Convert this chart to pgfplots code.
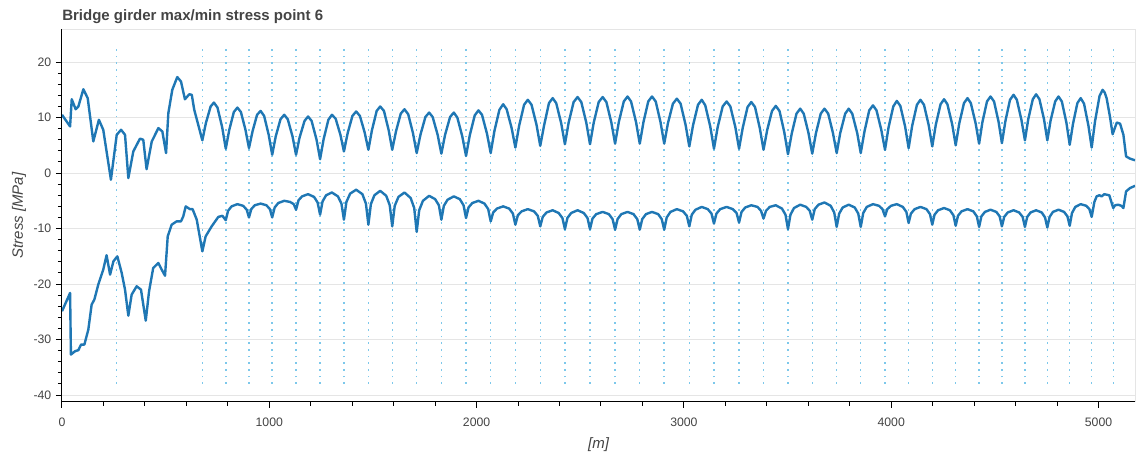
\documentclass[border=0pt]{standalone}
\usepackage{fontspec}
\setmainfont{Liberation Sans}
\usepackage{pgfplots}
\pgfplotsset{compat=1.18}
\definecolor{bkblue}{RGB}{31,119,180}
\definecolor{bkgrid}{RGB}{229,229,229}
\definecolor{bktext}{RGB}{68,68,68}
\definecolor{support}{RGB}{125,200,235}

\begin{document}
\begin{tikzpicture}
  \begin{axis}[
      scale only axis,
      width=804.75pt, height=279.3pt,
      xmin=0, xmax=5176,
      ymin=-41.2, ymax=25.9,
      xtick={0,1000,2000,3000,4000,5000},
      ytick={-40,-30,-20,-10,0,10,20},
      minor x tick num=4,
      minor y tick num=4,
      xtick pos=bottom, ytick pos=left,
      tick align=outside,
      major tick length=4.5pt,
      minor tick length=3pt,
      tick style={black, line width=0.75pt},
      axis line style={bkgrid, line width=0.75pt},
      ymajorgrids=true,
      grid style={bkgrid, line width=0.75pt},
      /pgf/number format/assume math mode=true,
      /pgf/number format/1000 sep={},
      ticklabel style={font=\fontsize{9.2}{10}\selectfont, text=bktext},
      xticklabel style={yshift=-4pt},
      title={Bridge girder max/min stress point 6},
      title style={at={(axis description cs:0,1)}, anchor=base west, inner xsep=0pt, yshift=0.5pt,
        font=\bfseries\fontsize{11.25}{13}\selectfont, text=bktext},
      xlabel={[m]},
      ylabel={Stress [MPa]},
      xlabel style={at={(axis description cs:0.5,-0.125)}, anchor=base,
        font=\itshape\fontsize{11.25}{13}\selectfont, text=bktext},
      ylabel style={at={(axis description cs:-0.04,0.5)}, anchor=center,
        font=\itshape\fontsize{11.25}{13}\selectfont, text=bktext},
      unbounded coords=jump,
      after end axis/.code={
        \draw[black, line width=0.75pt] (rel axis cs:0,1) -- (rel axis cs:0,0) -- (rel axis cs:1,0);
      },
    ]
    % support positions
    \addplot[support, line width=1.1pt, dash pattern=on 1.3pt off 3.7pt] coordinates {
      (262,-38) (262,22.3) (262,nan)
      (677,-38) (677,22.3) (677,nan)
      (790,-38) (790,22.3) (790,nan)
      (902,-38) (902,22.3) (902,nan)
      (1014,-38) (1014,22.3) (1014,nan)
      (1129,-38) (1129,22.3) (1129,nan)
      (1245,-38) (1245,22.3) (1245,nan)
      (1360,-38) (1360,22.3) (1360,nan)
      (1478,-38) (1478,22.3) (1478,nan)
      (1593,-38) (1593,22.3) (1593,nan)
      (1711,-38) (1711,22.3) (1711,nan)
      (1830,-38) (1830,22.3) (1830,nan)
      (1949,-38) (1949,22.3) (1949,nan)
      (2068,-38) (2068,22.3) (2068,nan)
      (2187,-38) (2187,22.3) (2187,nan)
      (2307,-38) (2307,22.3) (2307,nan)
      (2426,-38) (2426,22.3) (2426,nan)
      (2547,-38) (2547,22.3) (2547,nan)
      (2668,-38) (2668,22.3) (2668,nan)
      (2787,-38) (2787,22.3) (2787,nan)
      (2905,-38) (2905,22.3) (2905,nan)
      (3026,-38) (3026,22.3) (3026,nan)
      (3145,-38) (3145,22.3) (3145,nan)
      (3266,-38) (3266,22.3) (3266,nan)
      (3384,-38) (3384,22.3) (3384,nan)
      (3502,-38) (3502,22.3) (3502,nan)
      (3619,-38) (3619,22.3) (3619,nan)
      (3737,-38) (3737,22.3) (3737,nan)
      (3853,-38) (3853,22.3) (3853,nan)
      (3970,-38) (3970,22.3) (3970,nan)
      (4084,-38) (4084,22.3) (4084,nan)
      (4198,-38) (4198,22.3) (4198,nan)
      (4311,-38) (4311,22.3) (4311,nan)
      (4424,-38) (4424,22.3) (4424,nan)
      (4534,-38) (4534,22.3) (4534,nan)
      (4645,-38) (4645,22.3) (4645,nan)
      (4753,-38) (4753,22.3) (4753,nan)
      (4861,-38) (4861,22.3) (4861,nan)
      (4967,-38) (4967,22.3) (4967,nan)
      (5071,-38) (5071,22.3)
    };
    % max stress
    \addplot[bkblue, line width=1.8pt, line join=round, mark=none] coordinates {
      (0,10.5) (39,8.4) (47,13.3) (66,11.5) (79,12.0) (103,15.1) (124,13.5) (151,5.7) (178,9.6) (199,7.8)
      (236,-1.2) (264,6.9) (285,7.8) (304,6.9) (320,-0.9) (344,3.9) (376,6.2) (392,6.0) (408,0.7) (433,5.7)
      (465,8.1) (484,7.5) (502,3.6) (513,10.8) (532,15.0) (556,17.3) (574,16.5) (593,13.3) (614,14.2) (626,14.1)
      (638,11.4) (677,5.9)
      (694,9.0) (717,12.0) (733,12.7) (750,11.8) (773,8.2) (790,4.4)
      (807,7.8) (829,11.0) (846,11.8) (863,11.0) (885,7.8) (902,4.5)
      (919,7.5) (941,10.5) (958,11.2) (975,10.3) (997,6.9) (1014,3.3)
      (1031,6.6) (1054,9.7) (1072,10.5) (1089,9.7) (1112,6.6) (1129,3.3)
      (1146,6.4) (1170,9.4) (1187,10.2) (1204,9.4) (1228,6.0) (1245,2.5)
      (1262,6.1) (1285,9.6) (1302,10.5) (1320,9.8) (1343,6.9) (1360,3.9)
      (1378,7.2) (1401,10.3) (1419,11.1) (1437,10.3) (1460,7.3) (1478,4.2)
      (1495,7.7) (1518,11.2) (1535,12.0) (1553,11.2) (1576,7.7) (1593,4.2)
      (1611,7.5) (1634,10.7) (1652,11.5) (1670,10.6) (1693,7.2) (1711,3.6)
      (1729,6.9) (1753,10.1) (1771,10.9) (1788,10.1) (1812,6.9) (1830,3.5)
      (1848,6.9) (1872,10.1) (1890,10.9) (1907,10.0) (1931,6.6) (1949,3.1)
      (1967,6.8) (1991,10.4) (2009,11.3) (2026,10.5) (2050,7.1) (2068,3.6)
      (2086,7.6) (2110,11.4) (2128,12.4) (2145,11.5) (2169,8.1) (2187,4.6)
      (2205,8.5) (2229,12.3) (2247,13.2) (2265,12.3) (2289,8.7) (2307,4.9)
      (2325,8.5) (2349,12.6) (2367,13.5) (2384,12.6) (2408,9.0) (2426,5.2)
      (2444,9.1) (2468,12.8) (2487,13.7) (2505,12.8) (2529,9.1) (2547,5.2)
      (2565,9.1) (2589,12.8) (2608,13.7) (2626,12.8) (2650,9.1) (2668,5.3)
      (2686,9.2) (2710,12.9) (2728,13.8) (2745,12.9) (2769,9.2) (2787,5.3)
      (2805,9.2) (2828,12.9) (2846,13.8) (2864,12.9) (2887,9.2) (2905,5.3)
      (2923,9.0) (2947,12.5) (2966,13.4) (2984,12.5) (3008,8.7) (3026,4.8)
      (3044,8.6) (3068,12.3) (3086,13.2) (3103,12.2) (3127,8.4) (3145,4.4)
      (3163,8.3) (3187,12.0) (3206,12.9) (3224,12.0) (3248,8.3) (3266,4.4)
      (3284,8.2) (3307,11.9) (3325,12.8) (3343,11.9) (3366,8.1) (3384,4.2)
      (3402,7.8) (3425,11.2) (3443,12.1) (3461,11.2) (3484,7.4) (3502,3.4)
      (3520,7.1) (3543,10.7) (3561,11.6) (3578,10.7) (3601,7.2) (3619,3.5)
      (3637,7.2) (3660,10.7) (3678,11.6) (3696,10.7) (3719,7.2) (3737,3.6)
      (3754,7.2) (3778,10.7) (3795,11.6) (3812,10.7) (3836,7.2) (3853,3.6)
      (3871,7.5) (3894,11.3) (3912,12.2) (3929,11.3) (3952,7.8) (3970,4.2)
      (3987,8.2) (4010,12.0) (4027,13.0) (4044,12.1) (4067,8.4) (4084,4.5)
      (4101,8.5) (4124,12.3) (4141,13.2) (4158,12.3) (4181,8.6) (4198,4.8)
      (4215,8.7) (4238,12.4) (4255,13.3) (4271,12.4) (4294,8.8) (4311,5.0)
      (4328,8.9) (4351,12.6) (4368,13.5) (4384,12.6) (4407,9.0) (4424,5.3)
      (4440,9.2) (4462,12.9) (4479,13.8) (4496,12.9) (4518,9.2) (4534,5.4)
      (4551,9.4) (4573,13.2) (4590,14.1) (4606,13.2) (4628,9.6) (4645,5.9)
      (4661,9.7) (4683,13.3) (4699,14.2) (4715,13.3) (4737,9.7) (4753,5.9)
      (4769,9.5) (4791,12.9) (4807,13.8) (4823,12.9) (4845,9.1) (4861,5.1)
      (4877,8.9) (4898,12.6) (4914,13.5) (4930,12.5) (4951,8.6) (4967,4.6)
      (4983,9.3) (5005,13.9) (5020,15.0) (5030,14.5) (5039,13.5) (5055,10.2) (5068,7.0)
      (5088,9.1) (5104,8.9) (5120,6.9) (5133,3.0) (5152,2.6) (5176,2.3)
    };
    % min stress
    \addplot[bkblue, line width=1.8pt, line join=round, mark=none] coordinates {
      (0,-24.9) (39,-21.6) (43,-32.7) (63,-32.1) (79,-31.9) (92,-30.9) (108,-30.9) (127,-28.2) (143,-23.7) (156,-22.8)
      (175,-20.1) (199,-17.4) (215,-14.8) (232,-18.3) (248,-15.9) (267,-15.0) (288,-18.0) (304,-21.0) (320,-25.7) (336,-21.9)
      (360,-20.4) (381,-21.0) (404,-26.6) (420,-21.3) (440,-17.1) (465,-16.2) (481,-17.4) (497,-18.5) (510,-11.4) (529,-9.3)
      (553,-8.7) (574,-8.7) (585,-7.8) (597,-6.0) (617,-6.5) (630,-6.5) (650,-8.4) (677,-14.1)
      (693,-11.4) (722,-9.6) (754,-7.9) (774,-7.7) (790,-8.5)
      (801,-6.8) (818,-6.0) (846,-5.6) (874,-5.9) (891,-6.6) (902,-8.0)
      (913,-6.5) (930,-5.8) (958,-5.5) (986,-5.8) (1003,-6.5) (1014,-8.0)
      (1026,-6.2) (1043,-5.4) (1072,-5.0) (1100,-5.2) (1118,-5.6) (1129,-6.6)
      (1141,-4.9) (1158,-4.2) (1187,-3.8) (1216,-4.3) (1233,-5.3) (1245,-7.5)
      (1257,-5.1) (1274,-4.0) (1302,-3.5) (1331,-4.2) (1348,-5.5) (1360,-8.4)
      (1372,-5.2) (1390,-3.7) (1419,-3.0) (1449,-3.8) (1466,-5.5) (1478,-9.3)
      (1490,-5.6) (1507,-4.0) (1535,-3.2) (1564,-4.1) (1581,-5.8) (1593,-9.6)
      (1605,-5.9) (1623,-4.3) (1652,-3.5) (1682,-4.5) (1699,-6.3) (1711,-10.6)
      (1723,-6.7) (1741,-5.0) (1771,-4.1) (1800,-4.7) (1818,-5.8) (1830,-8.4)
      (1842,-5.9) (1860,-4.8) (1890,-4.2) (1919,-4.7) (1937,-5.8) (1949,-8.1)
      (1961,-6.2) (1979,-5.4) (2009,-5.0) (2038,-5.5) (2056,-6.5) (2068,-8.7)
      (2080,-7.1) (2098,-6.4) (2128,-6.0) (2157,-6.4) (2175,-7.3) (2187,-9.3)
      (2199,-7.6) (2217,-6.9) (2247,-6.5) (2277,-6.9) (2295,-7.7) (2307,-9.6)
      (2319,-7.9) (2337,-7.1) (2367,-6.7) (2396,-7.2) (2414,-8.1) (2426,-10.1)
      (2438,-8.1) (2456,-7.2) (2487,-6.7) (2517,-7.2) (2535,-8.1) (2547,-10.1)
      (2559,-8.2) (2577,-7.4) (2608,-7.0) (2638,-7.4) (2656,-8.3) (2668,-10.2)
      (2680,-8.3) (2698,-7.4) (2728,-7.0) (2757,-7.4) (2775,-8.3) (2787,-10.2)
      (2799,-8.3) (2817,-7.4) (2846,-7.0) (2876,-7.4) (2893,-8.3) (2905,-10.2)
      (2917,-8.0) (2935,-7.0) (2966,-6.5) (2996,-6.9) (3014,-7.7) (3026,-9.6)
      (3038,-7.5) (3056,-6.6) (3086,-6.1) (3115,-6.5) (3133,-7.3) (3145,-9.1)
      (3157,-7.3) (3175,-6.5) (3206,-6.1) (3236,-6.5) (3254,-7.2) (3266,-8.9)
      (3278,-7.0) (3296,-6.2) (3325,-5.8) (3355,-6.1) (3372,-6.8) (3384,-8.2)
      (3396,-6.8) (3414,-6.1) (3443,-5.8) (3473,-6.4) (3490,-7.5) (3502,-10.1)
      (3514,-7.5) (3531,-6.3) (3561,-5.7) (3590,-6.1) (3607,-6.8) (3619,-8.4)
      (3631,-6.5) (3649,-5.7) (3678,-5.3) (3708,-5.9) (3725,-7.1) (3737,-9.7)
      (3749,-7.3) (3766,-6.2) (3795,-5.7) (3824,-6.2) (3841,-7.3) (3853,-9.7)
      (3865,-7.2) (3882,-6.1) (3912,-5.6) (3941,-5.9) (3958,-6.5) (3970,-7.8)
      (3981,-6.5) (3999,-5.9) (4027,-5.6) (4056,-6.1) (4073,-7.0) (4084,-9.0)
      (4095,-7.3) (4113,-6.5) (4141,-6.1) (4170,-6.5) (4187,-7.4) (4198,-9.3)
      (4209,-7.5) (4226,-6.7) (4255,-6.3) (4283,-6.7) (4300,-7.6) (4311,-9.5)
      (4322,-7.7) (4339,-6.9) (4368,-6.5) (4396,-6.9) (4413,-7.8) (4424,-9.7)
      (4435,-7.8) (4452,-7.0) (4479,-6.6) (4507,-7.0) (4523,-7.8) (4534,-9.6)
      (4545,-7.9) (4562,-7.1) (4590,-6.7) (4617,-7.1) (4634,-7.9) (4645,-9.7)
      (4656,-7.9) (4672,-7.1) (4699,-6.7) (4726,-7.1) (4742,-8.0) (4753,-9.8)
      (4764,-7.9) (4780,-7.0) (4807,-6.6) (4834,-7.0) (4850,-7.8) (4861,-9.5)
      (4872,-7.2) (4888,-6.1) (4914,-5.6) (4941,-5.9) (4956,-6.5) (4967,-7.9)
      (4980,-5.2) (4991,-4.2) (5004,-4.0) (5015,-4.2) (5028,-3.8) (5039,-3.9) (5052,-4.0) (5071,-6.3)
      (5080,-5.8) (5095,-5.7) (5110,-5.9) (5120,-6.3) (5133,-3.3) (5152,-2.7) (5176,-2.3)
    };
  \end{axis}
  \pgfresetboundingbox
  \path (-46.5pt,-40pt) rectangle (805.5pt,301.3pt);
\end{tikzpicture}
\end{document}
